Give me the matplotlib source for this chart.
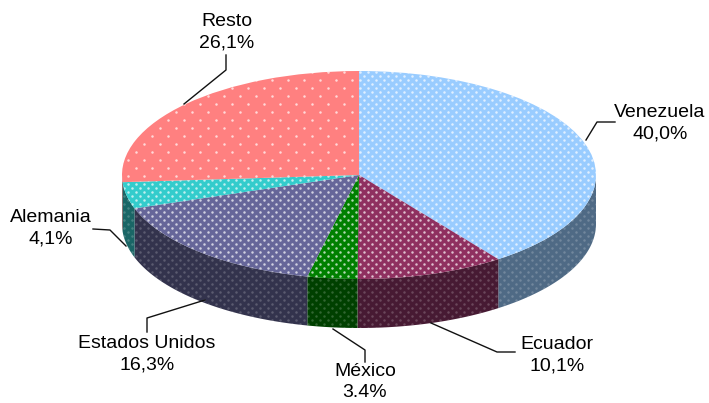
#!/usr/bin/env python3

"""3D style pie of import shares, drawn from plain matplotlib wedges."""

import numpy as np
import matplotlib

matplotlib.use("Agg")

import matplotlib.pyplot as plt

names = ["Venezuela", "Ecuador", "México", "Estados Unidos", "Alemania", "Resto"]
shares = [40.0, 10.1, 3.4, 16.3, 4.1, 26.1]
share_labels = ["40,0%", "10,1%", "3.4%", "16,3%", "4,1%", "26,1%"]

top_colors = ["#99CCFF", "#8F3060", "#008000", "#666699", "#33CCCC", "#FF8080"]
side_colors = ["#4F6A85", "#471A33", "#004000", "#33334D", "#1A6666", "#803F3F"]
dot_steps = [(8, 4), (8, 4), (8, 4), (8, 4), (8, 4), (16, 8)]

# pie geometry in pixels of the 709x403 picture
CX, CY, RX, RY, DEPTH = 359.0, 175.0, 237.0, 104.0, 49.0
WIDTH, HEIGHT = 709, 403

# label centres and leader paths, in pixels
label_pos = [(660, 123), (557, 355), (365, 382), (147, 354), (51, 228), (227, 32)]
leaders = [
    [(615, 122), (597, 122), (586, 140)],
    [(431, 323), (497, 352), (515, 352)],
    [(333, 329), (365, 350), (365, 362)],
    [(205, 300), (147, 318), (147, 332)],
    [(126, 246), (110, 230), (93, 229)],
    [(226, 55), (226, 70), (184, 104)],
]


def to_x(px):
    return (np.asarray(px, dtype=float) - CX) / RX


def to_y(py):
    return (CY - np.asarray(py, dtype=float)) / RY


def add_dots(ax, patch, step, alpha):
    """White dot texture on a staggered pixel grid, clipped to one patch."""
    step_x, step_y = step
    rows = np.arange(0, HEIGHT, step_y)
    for i, row in enumerate(rows):
        cols = np.arange(0, WIDTH, step_x) + (step_x / 2 if i % 2 else 0)
        line, = ax.plot(to_x(cols), np.full(cols.shape, to_y(row)), ls="none",
                        marker="o", ms=1.8, mew=0, color="white", alpha=alpha,
                        zorder=patch.get_zorder() + 0.1)
        line.set_clip_path(patch)


def main():
    plt.rcParams["font.family"] = ["Liberation Sans", "DejaVu Sans"]
    fig = plt.figure(figsize=(WIDTH / 100, HEIGHT / 100), dpi=100)
    ax = fig.add_axes([0, 0, 1, 1])

    wedges, _ = ax.pie(shares, colors=top_colors, startangle=90, counterclock=False,
                       radius=1.0, wedgeprops={"linewidth": 0})
    for wedge in wedges:
        wedge.set_zorder(3)

    # side wall: only the part of each slice on the front half of the ellipse
    edges = np.cumsum([0.0] + shares) / sum(shares) * 2 * np.pi
    drop = DEPTH / RY
    for i, wedge in enumerate(wedges):
        start = max(edges[i], np.pi / 2)
        stop = min(edges[i + 1], 3 * np.pi / 2)
        if stop > start:
            theta = np.linspace(start, stop, 80)
            xs = np.sin(theta)
            ys = np.cos(theta)
            wall, = ax.fill(np.r_[xs, xs[::-1]], np.r_[ys, ys[::-1] - drop],
                            color=side_colors[i], lw=0, zorder=2)
            add_dots(ax, wall, dot_steps[i], 0.2)
        add_dots(ax, wedge, dot_steps[i], 0.7)

    for name, pct, pos, path in zip(names, share_labels, label_pos, leaders):
        ax.text(to_x(pos[0]), to_y(pos[1]), f"{name}\n{pct}", ha="center", va="center",
                fontsize=14, color="black", linespacing=1.32, zorder=6)
        px, py = zip(*path)
        ax.plot(to_x(px), to_y(py), color="#111111", lw=1.0, zorder=5)

    ax.set_aspect("auto")
    ax.set_xlim(to_x(0), to_x(WIDTH))
    ax.set_ylim(to_y(HEIGHT), to_y(0))
    ax.axis("off")

    fig.savefig("out.png", dpi=100)
    plt.close(fig)


if __name__ == "__main__":
    main()
